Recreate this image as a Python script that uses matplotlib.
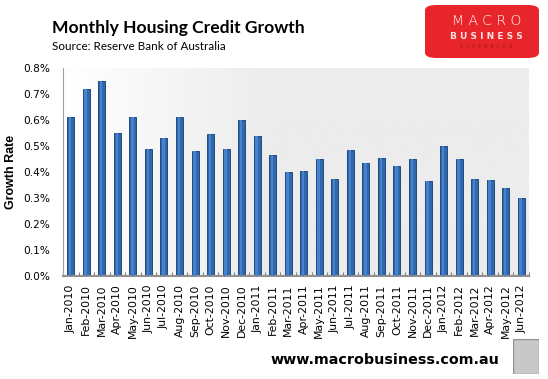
"""
Monthly Housing Credit Growth bar chart (MacroBusiness style).
"""

import matplotlib
matplotlib.use('Agg')
import matplotlib.pyplot as plt
import numpy as np
from matplotlib.patches import FancyBboxPatch, Rectangle
from matplotlib.ticker import FuncFormatter, FixedLocator

months = ['Jan-2010', 'Feb-2010', 'Mar-2010', 'Apr-2010', 'May-2010', 'Jun-2010',
          'Jul-2010', 'Aug-2010', 'Sep-2010', 'Oct-2010', 'Nov-2010', 'Dec-2010',
          'Jan-2011', 'Feb-2011', 'Mar-2011', 'Apr-2011', 'May-2011', 'Jun-2011',
          'Jul-2011', 'Aug-2011', 'Sep-2011', 'Oct-2011', 'Nov-2011', 'Dec-2011',
          'Jan-2012', 'Feb-2012', 'Mar-2012', 'Apr-2012', 'May-2012', 'Jun-2012']
growth = [0.61, 0.72, 0.75, 0.55, 0.61, 0.49,
          0.53, 0.61, 0.48, 0.545, 0.49, 0.60,
          0.54, 0.465, 0.40, 0.405, 0.45, 0.375,
          0.485, 0.435, 0.455, 0.425, 0.45, 0.365,
          0.50, 0.45, 0.375, 0.37, 0.34, 0.30]
y_ticks = [0.0, 0.1, 0.2, 0.3, 0.4, 0.5, 0.6, 0.7, 0.8]

W, H = 548, 379
fig = plt.figure(figsize=(W / 100, H / 100), dpi=100)


def px(x0, y0, x1, y1):
    """Pixel box (top-left origin) -> figure rect."""
    return [x0 / W, 1 - y1 / H, (x1 - x0) / W, (y1 - y0) / H]


ax = fig.add_axes(px(63, 68, 529, 276))
n = len(months)
x = np.arange(n)

# plot area background: white fading to light grey
grad = np.linspace(0, 1, 256)
grad = np.clip(grad / 0.45, 0, 1)
bg = np.ones((2, 256, 3))
for c in range(3):
    bg[:, :, c] = 1 - grad * (1 - 0xec / 255)
ax.imshow(bg, extent=[-0.5, n - 0.5, 0, 0.8], aspect='auto', zorder=0)

ax.bar(x, growth, width=0.45, color='#3167ab', edgecolor='#1f4a80',
       linewidth=0.7, zorder=2)
ax.bar(x - 0.04, growth, width=0.16, color='#4683cc', linewidth=0, zorder=3)

ax.set_xlim(-0.5, n - 0.5)
ax.set_ylim(0, 0.8)
ax.set_yticks(y_ticks)
ax.yaxis.set_major_formatter(FuncFormatter(lambda v, p: f'{v:.1f}%'))
ax.set_xticks(x)
ax.set_xticklabels(months, rotation=90, fontsize=7.8, family='DejaVu Sans')
ax.xaxis.set_minor_locator(FixedLocator(np.arange(-0.5, n, 1)))
ax.tick_params(axis='x', which='major', length=0, pad=6)
ax.tick_params(axis='x', which='minor', length=3, direction='in',
               color='#808080', width=0.8)
ax.tick_params(axis='y', length=0, labelsize=7.6, pad=9)
for lab in ax.get_yticklabels():
    lab.set_family('DejaVu Sans')

for s in ['top', 'right']:
    ax.spines[s].set_visible(False)
ax.spines['left'].set_color('#a0a0a0')
ax.spines['left'].set_linewidth(0.8)
ax.spines['bottom'].set_color('#909090')
ax.spines['bottom'].set_linewidth(1.5)

# y label placed by hand (sits right at the left edge in the original)
fig.text(11 / W, 1 - 172 / H, 'Growth Rate', rotation=90, fontsize=9,
         fontweight='bold', family='Liberation Sans', ha='center', va='center')

# titles
fig.text(52 / W, 1 - 33 / H, 'Monthly Housing Credit Growth', fontsize=12.6,
         fontweight='bold', family='Lato', ha='left', va='baseline')
fig.text(52 / W, 1 - 50 / H, 'Source: Reserve Bank of Australia', fontsize=8.4,
         family='Lato', ha='left', va='baseline')

# logo
logo = fig.add_axes(px(425, 5, 539, 58))
logo.set_xlim(0, 1)
logo.set_ylim(0, 1)
logo.axis('off')
logo.add_patch(FancyBboxPatch((0.0, 0.0), 1.0, 1.0,
                              boxstyle='round,pad=0,rounding_size=0.1',
                              facecolor='#e8252a', edgecolor='none'))
logo.text(0.54, 0.70, 'M A C R O', color='white', fontsize=10,
          fontweight='light', family='DejaVu Sans', ha='center', va='center')
logo.text(0.54, 0.40, 'B U S I N E S S', color='#fbe1e1', fontsize=6.5,
          fontweight='bold', family='DejaVu Sans', ha='center', va='center')
logo.text(0.54, 0.21, 'S  U  P  E  R  B  L  O  G', color='#9a1a1a',
          fontsize=3.3, family='DejaVu Sans', ha='center', va='center')

# footer
fig.text(384.5 / W, 1 - 360 / H, 'www.macrobusiness.com.au', fontsize=10.3,
         fontweight='bold', family='DejaVu Sans', ha='center', va='center')
wolf = fig.add_axes(px(513, 339, 539, 374))
wolf.axis('off')
wolf.add_patch(Rectangle((0, 0), 1, 1, facecolor='#c8c8c8',
                         edgecolor='#909090', linewidth=1,
                         transform=wolf.transAxes))

fig.savefig('out.png', dpi=100)
